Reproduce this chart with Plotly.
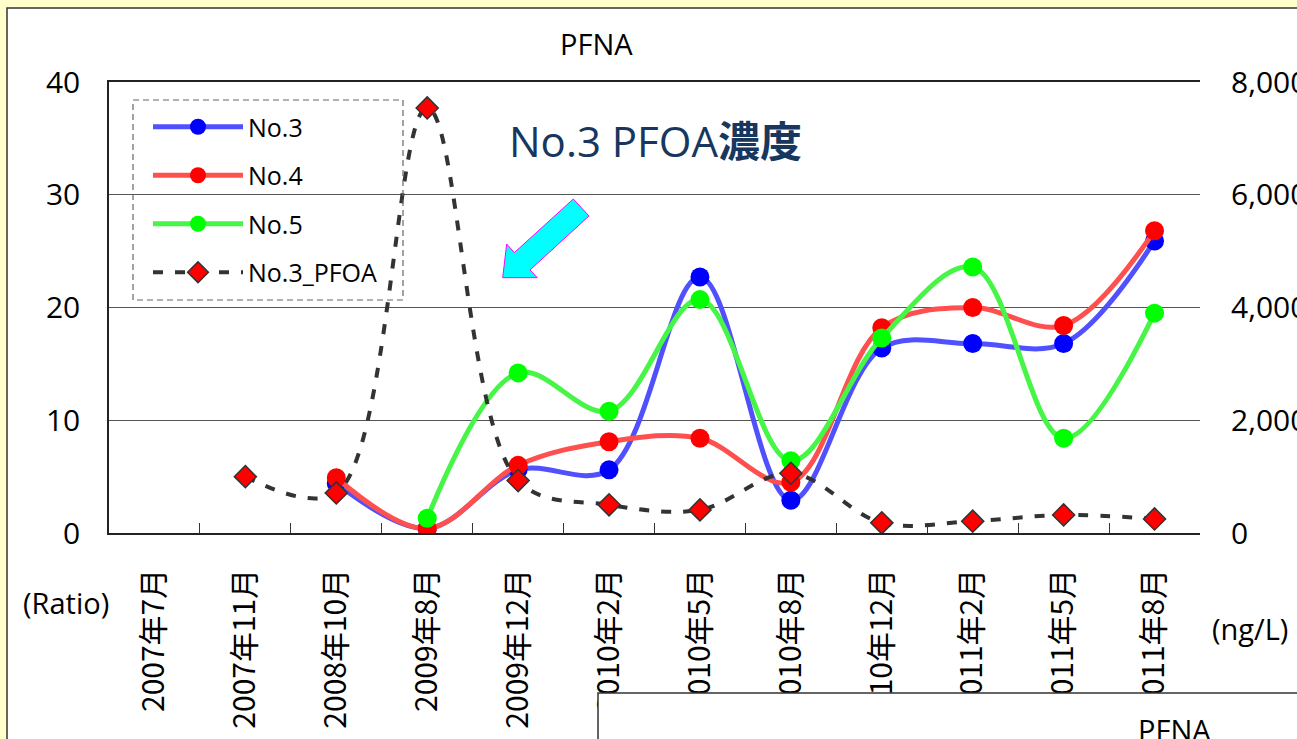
import plotly.graph_objects as go

months = ["2007年7月", "2007年11月", "2008年10月", "2009年8月", "2009年12月", "2010年2月",
          "2010年5月", "2010年8月", "2010年12月", "2011年2月", "2011年5月", "2011年8月"]

no3 = [None, None, 4.4, 0.4, 5.6, 5.6, 22.7, 2.9, 16.4, 16.8, 16.8, 25.9]
no4 = [None, None, 4.9, 0.4, 6.0, 8.1, 8.4, 4.5, 18.2, 20.0, 18.4, 26.8]
no5 = [None, None, None, 1.3, 14.2, 10.8, 20.7, 6.4, 17.3, 23.6, 8.4, 19.5]
no3_pfoa = [None, 1000, 710, 7540, 930, 500, 410, 1060, 180, 210, 320, 250]

FONT = "Open Sans, Noto Sans CJK JP, sans-serif"

# plot area in pixels (window 1297x739)
L, R, T, B = 109, 1200, 82, 533


def px(x):
    return (x - L) / (R - L)


def py(y):
    return (B - y) / (B - T)


fig = go.Figure()

fig.add_trace(go.Scatter(
    x=months, y=no3, name="No.3", mode="lines+markers", line_shape="spline",
    line=dict(color="rgb(80,80,255)", width=5),
    marker=dict(color="rgb(0,0,255)", size=19),
    legendgroup="a"))
fig.add_trace(go.Scatter(
    x=months, y=no4, name="No.4", mode="lines+markers", line_shape="spline",
    line=dict(color="rgb(255,80,80)", width=5),
    marker=dict(color="rgb(255,0,0)", size=19),
    legendgroup="b"))
fig.add_trace(go.Scatter(
    x=months, y=no5, name="No.5", mode="lines+markers", line_shape="spline",
    line=dict(color="rgb(70,245,70)", width=5),
    marker=dict(color="rgb(0,255,0)", size=19),
    legendgroup="c"))
fig.add_trace(go.Scatter(
    x=months, y=no3_pfoa, name="No.3_PFOA", mode="lines+markers", line_shape="spline",
    line=dict(color="#333333", width=4, dash="10px,12px"),
    marker=dict(color="red", symbol="diamond", size=17,
                line=dict(color="#333333", width=1.5)),
    yaxis="y2", legendgroup="d"))

shapes = [
    # outer white chart area
    dict(type="rect", xref="paper", yref="paper", layer="below",
         x0=px(7), x1=px(1320), y0=py(8), y1=py(760),
         fillcolor="white", line=dict(color="#333333", width=1.5)),
    # dashed legend box
    dict(type="rect", xref="paper", yref="paper", layer="above",
         x0=px(133), x1=px(403), y0=py(100), y1=py(300),
         line=dict(color="#666666", width=1.2, dash="6px,4px")),
    # cyan arrow
    dict(type="path", xref="paper", yref="paper", layer="above",
         path="M {} {} L {} {} L {} {} L {} {} L {} {} L {} {} L {} {} Z".format(
             px(573.3), py(199), px(589), py(216), px(530), py(270),
             px(537.3), py(277.7), px(502.7), py(277.7), px(506.7), py(244),
             px(514.3), py(252.7)),
         fillcolor="cyan", line=dict(color="magenta", width=1)),
    # second chart peeking in at the bottom
    dict(type="rect", xref="paper", yref="paper", layer="above",
         x0=px(598), x1=px(1320), y0=py(693), y1=py(760),
         fillcolor="white", line=dict(color="#333333", width=1.5)),
]


def label(text, x, y, size, color="black"):
    return dict(text=text, xref="paper", yref="paper", x=px(x), y=py(y),
                xanchor="center", yanchor="middle", showarrow=False,
                font=dict(size=size, color=color, family=FONT))


annotations = [
    label("PFNA", 596, 43, 29),
    label("No.3 PFOA<b>濃度</b>", 655, 140, 42, "#17375E"),
    label("(Ratio)", 66, 602, 29),
    label("(ng/L)", 1250, 628, 29),
    label("PFNA", 1174, 729, 29),
]

fig.update_layout(
    width=1297, height=739,
    margin=dict(l=L, r=1297 - R, t=T, b=739 - B, autoexpand=False),
    paper_bgcolor="rgb(255,255,204)",
    plot_bgcolor="white",
    font=dict(family=FONT, size=26, color="black"),
    showlegend=True,
    legend=dict(x=px(148), y=py(104), xanchor="left", yanchor="top",
                bgcolor="rgba(0,0,0,0)", font=dict(size=25, family=FONT),
                tracegroupgap=13, itemwidth=90),
    xaxis=dict(type="category", tickangle=-90, tickson="boundaries",
               ticks="inside", ticklen=10, tickcolor="#333333",
               showline=True, linecolor="#222222", linewidth=1.5, mirror=True,
               showgrid=False, ticklabelstandoff=22, automargin=False,
               tickfont=dict(size=30, family="Noto Sans CJK JP"),
               range=[-0.5, 11.5]),
    yaxis=dict(range=[0, 40], dtick=10, showgrid=True, gridcolor="#555555",
               gridwidth=1, zeroline=False, showline=True, linecolor="#222222",
               linewidth=1.5, ticks="", ticklabelstandoff=21, automargin=False,
               tickfont=dict(size=30)),
    yaxis2=dict(range=[0, 8000], dtick=2000, overlaying="y", side="right",
                showgrid=False, zeroline=False, tickformat=",d", ticks="",
                ticklabelstandoff=30, automargin=False, tickfont=dict(size=30)),
    shapes=shapes,
    annotations=annotations,
)

fig.write_html("out.html", config={"displayModeBar": False},
               post_script="document.body.style.margin='0';")
